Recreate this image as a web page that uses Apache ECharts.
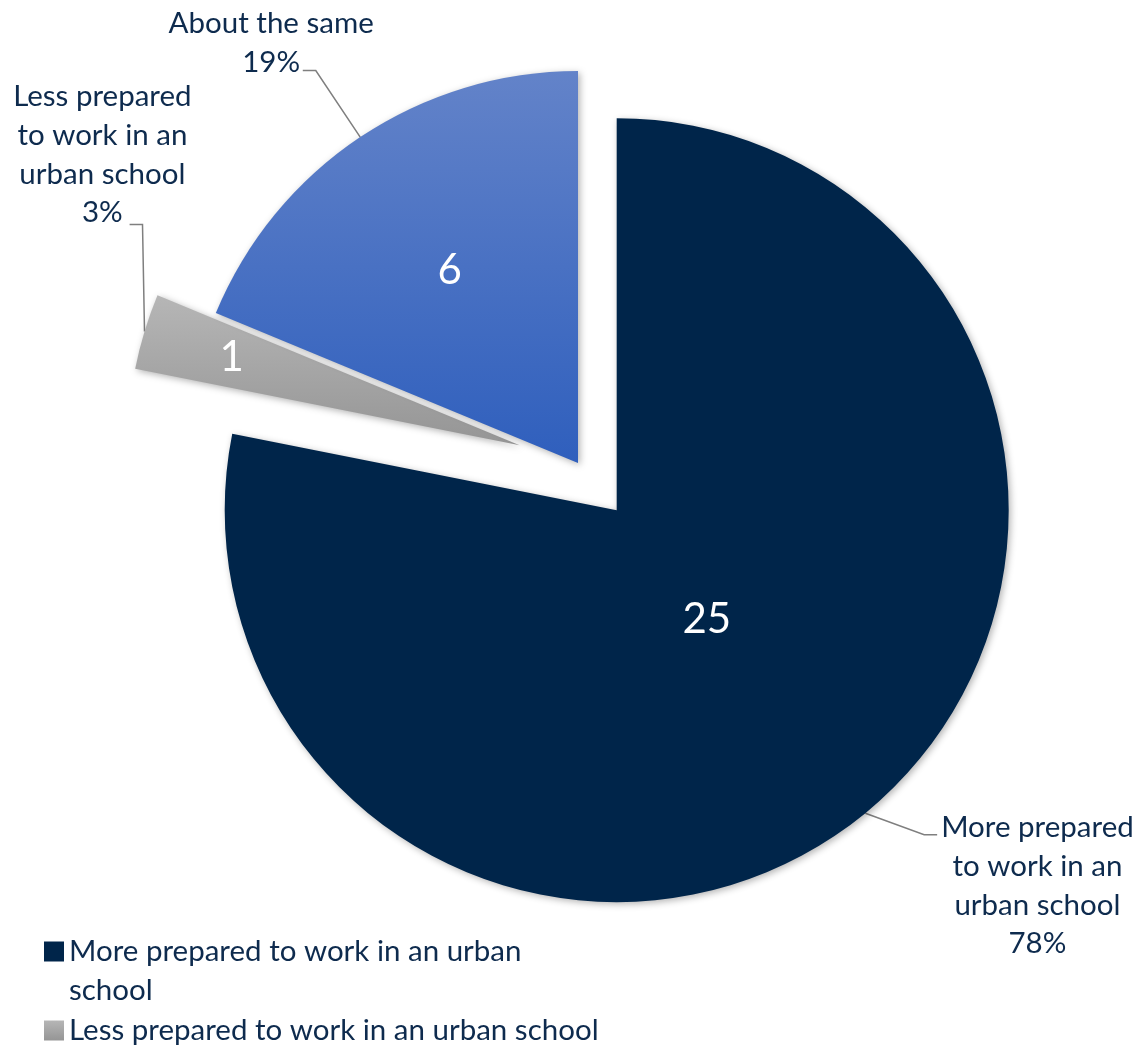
<!DOCTYPE html>
<html><head><meta charset="utf-8">
<script src="https://cdn.jsdelivr.net/npm/echarts@6/dist/echarts.min.js"></script>
<style>html,body{margin:0;padding:0;background:#fff}#c{width:1145px;height:1049px}</style>
</head><body><div id="c"></div>
<script>
// ---- data ----
const categories = ['More prepared to work in an urban school', 'Less prepared to work in an urban school', 'About the same'];
const values = [25, 1, 6];
const exploded = [true, true, false];
const labelLines = [['More prepared', 'to work in an', 'urban school'], ['Less prepared', 'to work in an', 'urban school'], ['About the same']];
const legendItems = ['More prepared to work in an urban school', 'Less prepared to work in an urban school'];
const legendText = ['\nMore prepared to work in an urban\nschool', 'Less prepared to work in an urban school'];

// ---- styles ----
const FONT = 'Lato';
const FS = 29.5;
const TEXT = '#0e2b4e';
const LH = 38.7;
const grad = (a, b) => new echarts.graphic.LinearGradient(0, 0, 0, 1, [{offset: 0, color: a}, {offset: 1, color: b}]);
const colors = ['#00254a', grad('#b6b6b6', '#959595'), grad('#6383c9', '#2f5fbd')];
const outerLabelStyle = [
  {padding: [102, 0, 0, 0], line: {length: 28, length2: 54}, rise: 0, knee: 13},
  {padding: [0, -66, 352, 0], line: {length: 2, length2: 13}, rise: 107, knee: 0},
  {padding: [0, -75, 55, 0], line: {length: 80, length2: 13}, rise: 0, knee: 0}
];
const innerRadius = [278, 596, 456];
const CENTER = [578, 463];
const R = 392;
const OFFSET = 61;

const shadow = {shadowBlur: 7, shadowColor: 'rgba(0,0,0,0.3)', shadowOffsetX: 2, shadowOffsetY: 2};

const mainSeries = {
  type: 'pie', center: CENTER, radius: R, startAngle: 90, clockwise: true,
  selectedMode: 'multiple', selectedOffset: OFFSET, avoidLabelOverlap: false,
  emphasis: {disabled: true}, animation: false, z: 2,
  itemStyle: Object.assign({borderWidth: 0}, shadow),
  label: {
    show: true, position: 'outside', distanceToLabelLine: 4,
    formatter: p => labelLines[p.dataIndex].map(s => '{c|' + s + '}').join('\n') + '\n{c|' + Math.round(p.percent) + '%}',
    rich: {c: {align: 'center', fontFamily: FONT, fontSize: FS, lineHeight: LH, color: TEXT}}
  },
  labelLine: {show: true, smooth: false, lineStyle: {color: '#7f7f7f', width: 1.5}},
  labelLayout: p => {
    const st = outerLabelStyle[p.dataIndex];
    const pts = p.labelLinePoints;
    if (!st || !pts || pts.length < 3) return {};
    const x0 = pts[0][0], y0 = pts[0][1], y1 = pts[1][1], x2 = pts[2][0];
    if (st.rise) return {labelLinePoints: [[x0, y0], [x0 - 2, y0 - st.rise], [x2, y0 - st.rise]]};
    if (st.knee) return {labelLinePoints: [[x0, y0], [x2 - st.knee, y1], [x2, y1]]};
    return {};
  },
  data: categories.map((n, i) => ({
    name: n, value: values[i], selected: exploded[i],
    itemStyle: {color: colors[i]},
    select: {itemStyle: {color: colors[i]}},
    label: {padding: outerLabelStyle[i].padding},
    labelLine: outerLabelStyle[i].line
  }))
};

const innerSeries = categories.map((_, k) => ({
  type: 'pie', center: CENTER, radius: [0, innerRadius[k]], startAngle: 90, clockwise: true,
  selectedMode: 'multiple', selectedOffset: OFFSET, avoidLabelOverlap: false, silent: true,
  emphasis: {disabled: true}, animation: false, z: 5,
  itemStyle: {color: 'rgba(0,0,0,0)'},
  labelLine: {show: false},
  data: categories.map((n, i) => ({
    name: n, value: values[i], selected: exploded[i],
    itemStyle: {color: 'rgba(0,0,0,0)'},
    select: {itemStyle: {color: 'rgba(0,0,0,0)'}},
    label: {show: i === k, position: 'inside', formatter: '{c}', color: '#ffffff', fontFamily: FONT, fontSize: 42}
  }))
}));

const chart = echarts.init(document.getElementById('c'), null, {renderer: 'canvas'});
chart.setOption({
  backgroundColor: '#ffffff',
  animation: false,
  legend: {
    orient: 'vertical', left: 39, top: 888, itemGap: 1, itemWidth: 20, itemHeight: 20, icon: 'rect',
    selectedMode: false,
    textStyle: {fontFamily: FONT, fontSize: FS, lineHeight: 39, color: TEXT},
    formatter: n => legendText[legendItems.indexOf(n)],
    data: legendItems
  },
  series: [mainSeries].concat(innerSeries)
});
</script></body></html>
